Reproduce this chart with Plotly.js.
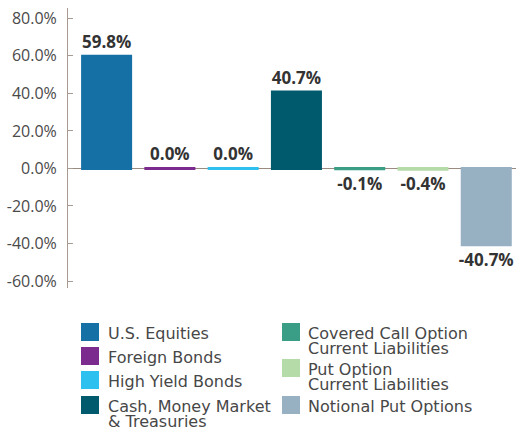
<!DOCTYPE html>
<html>
<head>
<meta charset="utf-8">
<script src="https://cdn.plot.ly/plotly-3.0.1.min.js"></script>
<style>
html,body{margin:0;padding:0;background:#fff;}
#chart{width:516px;height:430px;}
</style>
</head>
<body>
<div id="chart"></div>
<script>
var categories = ["U.S. Equities", "Foreign Bonds", "High Yield Bonds", "Cash, Money Market<br>& Treasuries", "Covered Call Option<br>Current Liabilities", "Put Option<br>Current Liabilities", "Notional Put Options"];
var values = [59.8, 0.04, 0.04, 40.7, -0.1, -0.4, -40.7];
var colors = ["#1570a6", "#7b2a8e", "#2ec0ef", "#005a6e", "#3a9e87", "#b5dba8", "#97b1c3"];
var tickValues = [-60, -40, -20, 0, 20, 40, 60, 80];

var W = 516, H = 430;
var M = {l: 68, r: 0, t: 8, b: 142};
var plotW = W - M.l - M.r, plotH = H - M.t - M.b;
function px2x(px){ return (px - M.l) / plotW; }
function py2y(py){ return (M.t + plotH - py) / plotH; }

var trace = {
  type: 'bar',
  x: categories.map(function(c, i){ return i; }),
  y: values,
  marker: {color: colors, line: {color: colors, width: 3}},
  texttemplate: '%{y:.1f}%',
  textposition: 'outside',
  constraintext: 'none',
  cliponaxis: false,
  textfont: {family: 'Open Sans', size: 17, color: '#333333', weight: 'bold'},
  hoverinfo: 'none',
  showlegend: false
};

// legend built as swatches + text
var legendPos = [
  {sx: 81, tx: 107, cy: 332},
  {sx: 81, tx: 107, cy: 356},
  {sx: 81, tx: 107, cy: 380},
  {sx: 81, tx: 107, cy: 405},
  {sx: 282, tx: 307, cy: 332},
  {sx: 282, tx: 307, cy: 368},
  {sx: 282, tx: 307, cy: 405}
];
var shapes = [], annotations = [];
categories.forEach(function(c, i){
  var p = legendPos[i];
  shapes.push({type: 'rect', xref: 'paper', yref: 'paper',
    x0: px2x(p.sx), x1: px2x(p.sx + 18), y0: py2y(p.cy - 9), y1: py2y(p.cy + 9),
    fillcolor: colors[i], line: {width: 0}});
  var lines = c.split('<br>');
  lines.forEach(function(line, j){
    annotations.push({xref: 'paper', yref: 'paper', x: px2x(p.tx - 1), y: py2y(p.cy + 1 + j * 15.5),
      xanchor: 'left', yanchor: 'middle', showarrow: false, text: line,
      font: {family: 'DejaVu Sans', size: 16, color: '#474747'}});
  });
});

var layout = {
  width: W, height: H,
  margin: M,
  paper_bgcolor: '#ffffff', plot_bgcolor: '#ffffff',
  bargap: 0.241,
  showlegend: false,
  xaxis: {range: [-0.61, 6.47], showgrid: false, showticklabels: false, ticks: '', zeroline: false, showline: false, fixedrange: true},
  yaxis: {range: [-63.7, 85.5], tickvals: tickValues, ticktext: tickValues.map(function(v){ return v.toFixed(1) + '%'; }),
    showgrid: false, showline: true, linecolor: '#a89a90', linewidth: 1,
    ticks: 'inside', ticklen: 5, tickcolor: '#a89a90', tickwidth: 1,
    zeroline: true, zerolinecolor: '#9a8a7f', zerolinewidth: 1.5,
    ticklabelstandoff: 7,
    tickfont: {family: 'Open Sans', size: 16, color: '#4a4a4a'}, fixedrange: true},
  shapes: shapes,
  annotations: annotations
};

Plotly.newPlot('chart', [trace], layout, {staticPlot: true, displayModeBar: false});
</script>
</body>
</html>
